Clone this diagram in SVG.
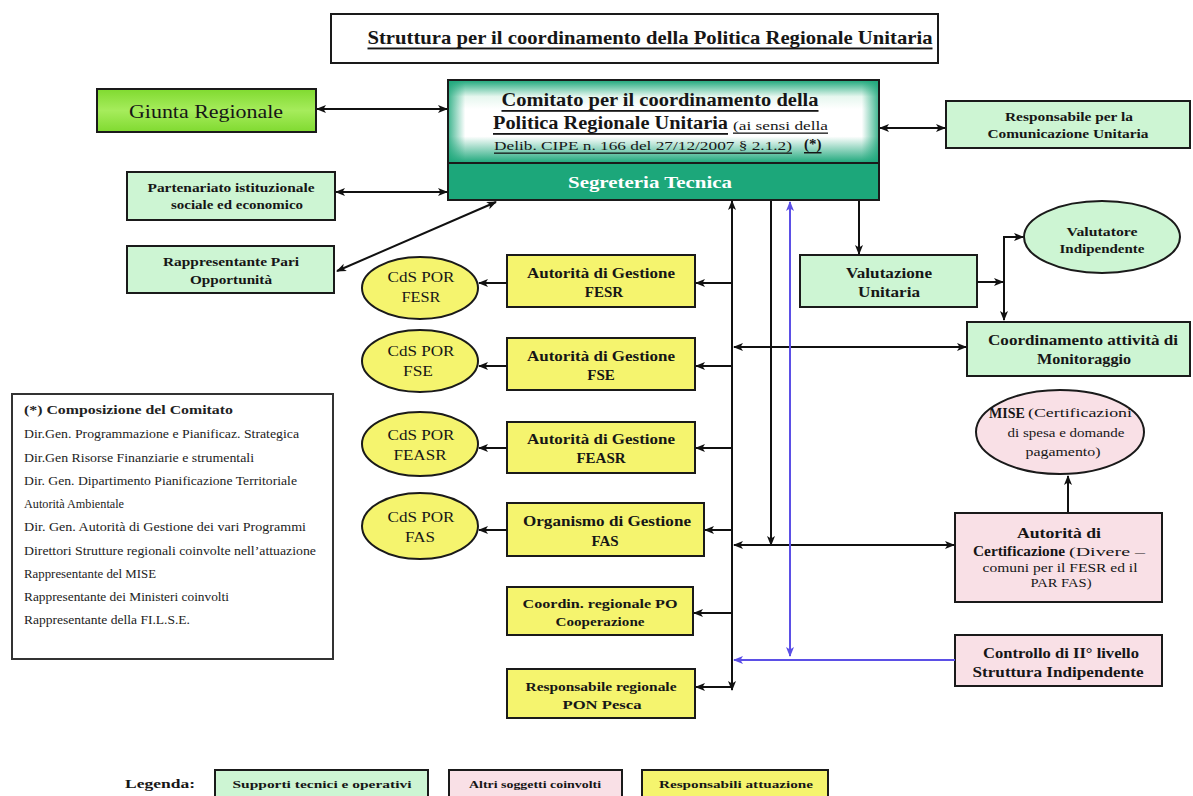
<svg xmlns="http://www.w3.org/2000/svg" width="1193" height="796" viewBox="0 0 1193 796">
<style>
.t{font-family:"Liberation Serif","Times New Roman",serif;fill:#161616;text-anchor:middle;dominant-baseline:central}
.s{font-family:"Liberation Serif","Times New Roman",serif;fill:#161616;dominant-baseline:central}
.l{font-family:"Liberation Serif","Times New Roman",serif;fill:#222;font-size:12px}
.b{font-weight:bold}
.box{stroke:#1a1a1a;stroke-width:2}
.g{fill:#cdf5d3}
.y{fill:#f5f46e}
.p{fill:#f9e0e6}
.ln{stroke:#111;stroke-width:2;fill:none}
.bl{stroke:#5b4fe6;stroke-width:2;fill:none}
.u{text-decoration:underline}
</style>
<defs>
<marker id="ah" viewBox="0 0 10 10" refX="9" refY="5" markerWidth="10" markerHeight="10" markerUnits="userSpaceOnUse" orient="auto-start-reverse"><path d="M0,1 L10,5 L0,9 L2.5,5 z" fill="#111"/></marker>
<marker id="ahb" viewBox="0 0 10 10" refX="9" refY="5" markerWidth="10" markerHeight="10" markerUnits="userSpaceOnUse" orient="auto-start-reverse"><path d="M0,1 L10,5 L0,9 L2.5,5 z" fill="#5b4fe6"/></marker>
<linearGradient id="comV" x1="0" y1="0" x2="0" y2="1">
<stop offset="0" stop-color="#1ca77a"/><stop offset="0.2" stop-color="#e6f7ef"/><stop offset="0.35" stop-color="#ffffff"/><stop offset="0.68" stop-color="#ffffff"/><stop offset="1" stop-color="#1ca77a"/>
</linearGradient>
<linearGradient id="comH" x1="0" y1="0" x2="1" y2="0">
<stop offset="0" stop-color="#1ca77a" stop-opacity="0.85"/><stop offset="0.04" stop-color="#1ca77a" stop-opacity="0"/><stop offset="0.96" stop-color="#1ca77a" stop-opacity="0"/><stop offset="1" stop-color="#1ca77a" stop-opacity="0.85"/>
</linearGradient>
<linearGradient id="lime" x1="0" y1="0" x2="0" y2="1">
<stop offset="0" stop-color="#80da30"/><stop offset="0.5" stop-color="#a6ec5c"/><stop offset="1" stop-color="#80da30"/>
</linearGradient>
</defs>
<rect width="1193" height="796" fill="#ffffff"/>

<g id="title">
<rect x="331" y="14" width="607" height="49" fill="#fff" class="box"/>
<text class="t b u" x="650" y="37" font-size="19" textLength="565" lengthAdjust="spacingAndGlyphs">Struttura per il coordinamento della Politica Regionale Unitaria</text>
</g>

<g id="giunta">
<rect x="97" y="89" width="219" height="43" fill="url(#lime)" class="box"/>
<text class="t" x="206" y="111" font-size="19" textLength="154" lengthAdjust="spacingAndGlyphs">Giunta Regionale</text>
</g>

<g id="partenariato">
<rect x="127" y="172" width="208" height="48" class="box g"/>
<text class="t b" x="231" y="188" font-size="12.5" textLength="167" lengthAdjust="spacingAndGlyphs">Partenariato istituzionale</text>
<text class="t b" x="237" y="205" font-size="12.5" textLength="132" lengthAdjust="spacingAndGlyphs">sociale ed economico</text>
</g>

<g id="rappresentante">
<rect x="127" y="246" width="207" height="47" class="box g"/>
<text class="t b" x="231" y="262" font-size="12.5" textLength="136" lengthAdjust="spacingAndGlyphs">Rappresentante Pari</text>
<text class="t b" x="231" y="280" font-size="12.5" textLength="82" lengthAdjust="spacingAndGlyphs">Opportunità</text>
</g>

<g id="comitato">
<rect x="448" y="80" width="431" height="83" fill="url(#comV)"/>
<rect x="448" y="80" width="431" height="83" fill="url(#comH)" class="box"/>
<text class="t b u" x="660" y="100" font-size="18" textLength="317" lengthAdjust="spacingAndGlyphs">Comitato per il coordinamento della</text>
<text class="s b u" x="493" y="123" font-size="18" textLength="235" lengthAdjust="spacingAndGlyphs">Politica Regionale Unitaria</text>
<text class="s u" x="733" y="125" font-size="13" textLength="95" lengthAdjust="spacingAndGlyphs">(ai sensi della</text>
<text class="s u" x="494" y="145" font-size="13" textLength="298" lengthAdjust="spacingAndGlyphs">Delib. CIPE n. 166 del 27/12/2007 § 2.1.2)</text>
<text class="s b u" x="804" y="144" font-size="15">(*)</text>
</g>

<g id="segreteria">
<rect x="448" y="163" width="431" height="37" fill="#1ca77a" class="box"/>
<text class="t b" x="650" y="182" font-size="17" textLength="164" lengthAdjust="spacingAndGlyphs" style="fill:#ffffff">Segreteria Tecnica</text>
</g>

<g id="comunicazione">
<rect x="946" y="101" width="244" height="47" class="box g"/>
<text class="t b" x="1069" y="117" font-size="11.5" textLength="128" lengthAdjust="spacingAndGlyphs">Responsabile per la</text>
<text class="t b" x="1068" y="134" font-size="11.5" textLength="161" lengthAdjust="spacingAndGlyphs">Comunicazione Unitaria</text>
</g>

<g id="valutatore">
<ellipse cx="1102" cy="237" rx="78" ry="36" class="box g"/>
<text class="t b" x="1102" y="232" font-size="12" textLength="71" lengthAdjust="spacingAndGlyphs">Valutatore</text>
<text class="t b" x="1102" y="249" font-size="12" textLength="85" lengthAdjust="spacingAndGlyphs">Indipendente</text>
</g>

<g id="valutazione">
<rect x="800" y="255" width="177" height="52" class="box g"/>
<text class="t b" x="889" y="273" font-size="14" textLength="86" lengthAdjust="spacingAndGlyphs">Valutazione</text>
<text class="t b" x="889" y="292" font-size="14" textLength="62" lengthAdjust="spacingAndGlyphs">Unitaria</text>
</g>

<g id="monitoraggio">
<rect x="967" y="322" width="223" height="54" class="box g"/>
<text class="t b" x="1083" y="340" font-size="14" textLength="190" lengthAdjust="spacingAndGlyphs">Coordinamento attività di</text>
<text class="t b" x="1084" y="359" font-size="14" textLength="94" lengthAdjust="spacingAndGlyphs">Monitoraggio</text>
</g>

<g id="adg-fesr">
<rect x="507" y="255" width="188" height="52" class="box y"/>
<text class="t b" x="601" y="273" font-size="14" textLength="148" lengthAdjust="spacingAndGlyphs">Autorità di Gestione</text>
<text class="t b" x="604" y="292" font-size="15">FESR</text>
</g>
<g id="cds-fesr">
<ellipse cx="420" cy="288" rx="58" ry="31" class="box y"/>
<text class="t" x="421" y="277" font-size="15" textLength="67" lengthAdjust="spacingAndGlyphs">CdS POR</text>
<text class="t" x="421" y="297" font-size="15" textLength="39" lengthAdjust="spacingAndGlyphs">FESR</text>
</g>

<g id="adg-fse">
<rect x="507" y="338" width="188" height="52" class="box y"/>
<text class="t b" x="601" y="356" font-size="14" textLength="148" lengthAdjust="spacingAndGlyphs">Autorità di Gestione</text>
<text class="t b" x="601" y="375" font-size="15">FSE</text>
</g>
<g id="cds-fse">
<ellipse cx="420" cy="361" rx="58" ry="31" class="box y"/>
<text class="t" x="421" y="351" font-size="15" textLength="67" lengthAdjust="spacingAndGlyphs">CdS POR</text>
<text class="t" x="418" y="371" font-size="15" textLength="30" lengthAdjust="spacingAndGlyphs">FSE</text>
</g>

<g id="adg-feasr">
<rect x="507" y="422" width="188" height="51" class="box y"/>
<text class="t b" x="601" y="439" font-size="14" textLength="148" lengthAdjust="spacingAndGlyphs">Autorità di Gestione</text>
<text class="t b" x="601" y="458" font-size="15">FEASR</text>
</g>
<g id="cds-feasr">
<ellipse cx="420" cy="444" rx="58" ry="32" class="box y"/>
<text class="t" x="421" y="435" font-size="15" textLength="67" lengthAdjust="spacingAndGlyphs">CdS POR</text>
<text class="t" x="420" y="455" font-size="15" textLength="53" lengthAdjust="spacingAndGlyphs">FEASR</text>
</g>

<g id="og-fas">
<rect x="507" y="503" width="197" height="53" class="box y"/>
<text class="t b" x="607" y="521" font-size="14.5" textLength="168" lengthAdjust="spacingAndGlyphs">Organismo di Gestione</text>
<text class="t b" x="605" y="541" font-size="15">FAS</text>
</g>
<g id="cds-fas">
<ellipse cx="420" cy="526" rx="58" ry="33" class="box y"/>
<text class="t" x="421" y="517" font-size="15" textLength="67" lengthAdjust="spacingAndGlyphs">CdS POR</text>
<text class="t" x="420" y="537" font-size="15" textLength="30" lengthAdjust="spacingAndGlyphs">FAS</text>
</g>

<g id="po-cooperazione">
<rect x="507" y="587" width="186" height="48" class="box y"/>
<text class="t b" x="600" y="603" font-size="13" textLength="155" lengthAdjust="spacingAndGlyphs">Coordin.  regionale PO</text>
<text class="t b" x="600" y="621" font-size="13" textLength="89" lengthAdjust="spacingAndGlyphs">Cooperazione</text>
</g>

<g id="pon-pesca">
<rect x="507" y="669" width="188" height="49" class="box y"/>
<text class="t b" x="601" y="686" font-size="13" textLength="151" lengthAdjust="spacingAndGlyphs">Responsabile regionale</text>
<text class="t b" x="602" y="704" font-size="13" textLength="79" lengthAdjust="spacingAndGlyphs">PON Pesca</text>
</g>

<g id="mise">
<ellipse cx="1060" cy="432" rx="84" ry="42" class="box p"/>
<text class="s b" x="989" y="413" font-size="14">MISE</text>
<text class="s" x="1028" y="413" font-size="12" textLength="104" lengthAdjust="spacingAndGlyphs">(Certificazioni</text>
<text class="t" x="1066" y="433" font-size="11.5" textLength="117" lengthAdjust="spacingAndGlyphs">di spesa e domande</text>
<text class="t" x="1063" y="452" font-size="11.5" textLength="75" lengthAdjust="spacingAndGlyphs">pagamento)</text>
</g>

<g id="certificazione">
<rect x="955" y="513" width="207" height="89" class="box p"/>
<text class="t b" x="1059" y="533" font-size="14.5" textLength="84" lengthAdjust="spacingAndGlyphs">Autorità di</text>
<text class="s b" x="973" y="551" font-size="14.5" textLength="92" lengthAdjust="spacingAndGlyphs">Certificazione</text>
<text class="s" x="1069" y="551" font-size="13.5" textLength="76" lengthAdjust="spacingAndGlyphs">(Divere –</text>
<text class="t" x="1060" y="568" font-size="12" textLength="155" lengthAdjust="spacingAndGlyphs">comuni per il FESR ed il</text>
<text class="t" x="1061" y="583" font-size="12" textLength="61" lengthAdjust="spacingAndGlyphs">PAR FAS)</text>
</g>

<g id="controllo">
<rect x="955" y="635" width="207" height="51" class="box p"/>
<text class="t b" x="1061" y="653" font-size="14" textLength="156" lengthAdjust="spacingAndGlyphs">Controllo di II° livello</text>
<text class="t b" x="1058" y="672" font-size="14" textLength="171" lengthAdjust="spacingAndGlyphs">Struttura Indipendente</text>
</g>

<g id="composizione">
<rect x="12" y="394" width="321" height="265" fill="#fff" stroke="#333" stroke-width="2"/>
<text class="l b" x="24" y="414" font-size="12.5" textLength="209" lengthAdjust="spacingAndGlyphs">(*)  Composizione del Comitato</text>
<text class="l" x="24" y="438" textLength="275" lengthAdjust="spacingAndGlyphs">Dir.Gen. Programmazione e Pianificaz. Strategica</text>
<text class="l" x="24" y="462" textLength="230" lengthAdjust="spacingAndGlyphs">Dir.Gen Risorse Finanziarie e strumentali</text>
<text class="l" x="24" y="485" textLength="273" lengthAdjust="spacingAndGlyphs">Dir. Gen. Dipartimento Pianificazione Territoriale</text>
<text class="l" x="24" y="508" textLength="100" lengthAdjust="spacingAndGlyphs">Autorità Ambientale</text>
<text class="l" x="24" y="531" textLength="282" lengthAdjust="spacingAndGlyphs">Dir. Gen. Autorità di Gestione dei vari Programmi</text>
<text class="l" x="24" y="555" textLength="292" lengthAdjust="spacingAndGlyphs">Direttori Strutture regionali coinvolte nell’attuazione</text>
<text class="l" x="24" y="578" textLength="132" lengthAdjust="spacingAndGlyphs">Rappresentante del MISE</text>
<text class="l" x="24" y="601" textLength="205" lengthAdjust="spacingAndGlyphs">Rappresentante dei Ministeri coinvolti</text>
<text class="l" x="24" y="624" textLength="166" lengthAdjust="spacingAndGlyphs">Rappresentante della FI.L.S.E.</text>
</g>

<g id="legenda">
<text class="s b" x="125" y="783" font-size="13" textLength="70" lengthAdjust="spacingAndGlyphs">Legenda:</text>
<rect x="215" y="770" width="213" height="30" class="box g"/>
<text class="t b" x="322" y="784" font-size="11" textLength="179" lengthAdjust="spacingAndGlyphs">Supporti tecnici e operativi</text>
<rect x="449" y="770" width="173" height="30" class="box p"/>
<text class="t b" x="535" y="784" font-size="11" textLength="132" lengthAdjust="spacingAndGlyphs">Altri soggetti coinvolti</text>
<rect x="642" y="770" width="186" height="30" class="box y"/>
<text class="t b" x="736" y="784" font-size="11" textLength="154" lengthAdjust="spacingAndGlyphs">Responsabili attuazione</text>
</g>

<g id="connectors">
<line class="ln" x1="317" y1="109" x2="447" y2="109" marker-start="url(#ah)" marker-end="url(#ah)"/>
<line class="ln" x1="336" y1="192" x2="447" y2="192" marker-start="url(#ah)" marker-end="url(#ah)"/>
<line class="ln" x1="496" y1="202" x2="337" y2="271" marker-start="url(#ah)" marker-end="url(#ah)"/>
<line class="ln" x1="880" y1="128" x2="945" y2="128" marker-start="url(#ah)" marker-end="url(#ah)"/>
<line class="ln" x1="859" y1="201" x2="859" y2="254" marker-end="url(#ah)"/>
<line class="ln" x1="732" y1="201" x2="732" y2="690" marker-start="url(#ah)" marker-end="url(#ah)"/>
<line class="ln" x1="732" y1="283" x2="696" y2="283" marker-end="url(#ah)"/>
<line class="ln" x1="732" y1="366" x2="696" y2="366" marker-end="url(#ah)"/>
<line class="ln" x1="732" y1="448" x2="696" y2="448" marker-end="url(#ah)"/>
<line class="ln" x1="732" y1="530" x2="705" y2="530" marker-end="url(#ah)"/>
<line class="ln" x1="732" y1="613" x2="694" y2="613" marker-end="url(#ah)"/>
<line class="ln" x1="732" y1="687" x2="696" y2="687" marker-end="url(#ah)"/>
<line class="ln" x1="507" y1="283" x2="479" y2="283" marker-end="url(#ah)"/>
<line class="ln" x1="507" y1="366" x2="479" y2="366" marker-end="url(#ah)"/>
<line class="ln" x1="507" y1="448" x2="479" y2="448" marker-end="url(#ah)"/>
<line class="ln" x1="507" y1="530" x2="479" y2="530" marker-end="url(#ah)"/>
<line class="ln" x1="734" y1="347" x2="966" y2="347" marker-start="url(#ah)" marker-end="url(#ah)"/>
<line class="ln" x1="771" y1="201" x2="771" y2="545" marker-end="url(#ah)"/>
<line class="ln" x1="734" y1="545" x2="954" y2="545" marker-start="url(#ah)" marker-end="url(#ah)"/>
<line class="bl" x1="790" y1="202" x2="790" y2="656" marker-start="url(#ahb)" marker-end="url(#ahb)"/>
<line class="bl" x1="955" y1="660" x2="734" y2="660" marker-end="url(#ahb)"/>
<line class="ln" x1="977" y1="282" x2="1003" y2="282" marker-end="url(#ah)"/>
<line class="ln" x1="1004" y1="236" x2="1004" y2="320" marker-end="url(#ah)"/>
<line class="ln" x1="1003" y1="237" x2="1023" y2="237" marker-end="url(#ah)"/>
<line class="ln" x1="1068" y1="512" x2="1068" y2="476" marker-end="url(#ah)"/>
</g>
</svg>
